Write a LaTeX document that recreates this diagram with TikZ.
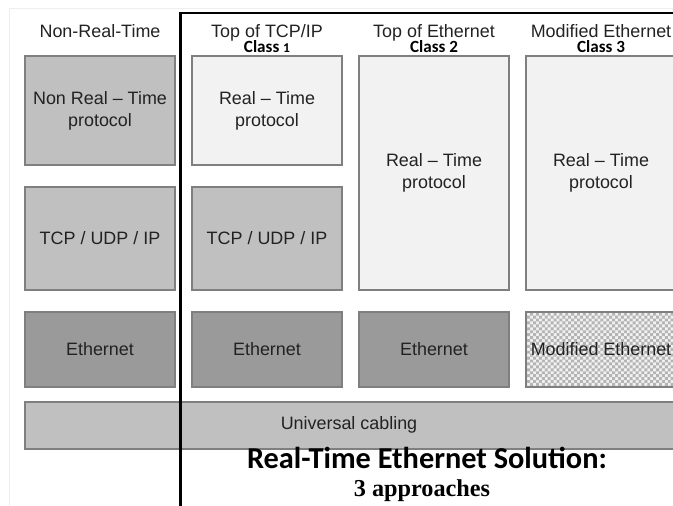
\documentclass[tikz,border=0pt]{standalone}
\usepackage{fontspec}
\setmainfont{Liberation Sans}
\newfontfamily\calfont{Carlito}
\newfontfamily\timesfont{Liberation Serif}
\usetikzlibrary{patterns}
\pgfdeclarepatternformonly{finecheck}{\pgfqpoint{-0.1pt}{-0.1pt}}{\pgfqpoint{5.1pt}{5.1pt}}{\pgfqpoint{5pt}{5pt}}{
    \pgfpathrectangle{\pgfpointorigin}{\pgfqpoint{2.5pt}{2.5pt}}
    \pgfpathrectangle{\pgfqpoint{2.5pt}{2.5pt}}{\pgfqpoint{2.5pt}{2.5pt}}
    \pgfusepath{fill}}
\definecolor{lg}{HTML}{F2F2F2}
\definecolor{mg}{HTML}{C0C0C0}
\definecolor{dg}{HTML}{9A9A9A}
\definecolor{bd}{HTML}{7F7F7F}
\definecolor{fr}{HTML}{EEEEEE}
\definecolor{tx}{HTML}{222222}
\definecolor{ck}{HTML}{B4B4B4}
\tikzset{
    layer/.style={draw=bd, line width=0.9pt, minimum width=4.5cm, inner sep=0pt,
        align=center, text=tx, font=\fontsize{15.3}{18.8}\selectfont},
    nrt/.style={layer, fill=mg},
    rt/.style={layer, fill=lg},
    eth/.style={layer, fill=dg, minimum height=2.25cm},
    head/.style={anchor=base, inner sep=0pt, text=tx, font=\fontsize{15.3}{18}\selectfont},
    class/.style={anchor=base, inner sep=0pt, font=\calfont\bfseries\fontsize{14.6}{17}\selectfont},
    divider/.style={line width=1.8pt}
}

\begin{document}
\begin{tikzpicture}[x=0.03cm, y=-0.03cm]
    \useasboundingbox (0,0) rectangle (673,506);
    \clip (0,0) rectangle (673,506);
    \draw[fr, line width=0.8pt] (9,506) -- (9,8) -- (673,8);
    % headers
    \node[head] (hnrt) at (100,37.5) {Non-Real-Time};
    \node[head] (htcp) at (267,37.5) {Top of TCP/IP};
    \node[class] (cone) at (267,53) {Class {\fontsize{11.5}{12}\selectfont 1}};
    \node[head] (heth) at (434,37.5) {Top of Ethernet};
    \node[class] (ctwo) at (434,53) {Class 2};
    \node[head] (hmod) at (601,37.5) {Modified Ethernet};
    \node[class] (cthree) at (601,53) {Class 3};
    % column 1
    \node[nrt, minimum height=3.27cm] (nrtp) at (100,110.5) {Non Real -- Time\\protocol};
    \node[nrt, minimum height=3.09cm] (tcpa) at (100,238.5) {TCP / UDP / IP};
    \node[eth] (etha) at (100,349.5) {Ethernet};
    % column 2
    \node[rt, minimum height=3.27cm] (rtpa) at (267,110.5) {Real -- Time\\protocol};
    \node[nrt, minimum height=3.09cm] (tcpb) at (267,238.5) {TCP / UDP / IP};
    \node[eth] (ethb) at (267,349.5) {Ethernet};
    % column 3
    \node[rt, minimum height=7.02cm] (rtpb) at (434,173) {Real -- Time\\protocol};
    \node[eth] (ethc) at (434,349.5) {Ethernet};
    % column 4
    \node[rt, minimum height=7.02cm] (rtpc) at (601,173) {Real -- Time\\protocol};
    \node[layer, minimum height=2.25cm, preaction={fill=lg},
        pattern=finecheck, pattern color=ck] (modeth) at (601,349.5) {Modified Ethernet};
    % cabling
    \node[nrt, minimum width=19.53cm, minimum height=1.41cm] (cable) at (350.5,425.5) {};
    \node[text=tx, font=\fontsize{15.3}{18}\selectfont] (cabtxt) at (349,425) {Universal cabling};
    \draw[divider] (180.5,506) -- (180.5,13) -- (673,13);
    % title
    \node[anchor=base, font=\calfont\bfseries\fontsize{25.9}{30}\selectfont] (title) at (427,468) {Real-Time Ethernet Solution:};
    \node[anchor=base, font=\timesfont\bfseries\fontsize{20.7}{24}\selectfont] (sub) at (422,496) {3 approaches};
\end{tikzpicture}
\end{document}
